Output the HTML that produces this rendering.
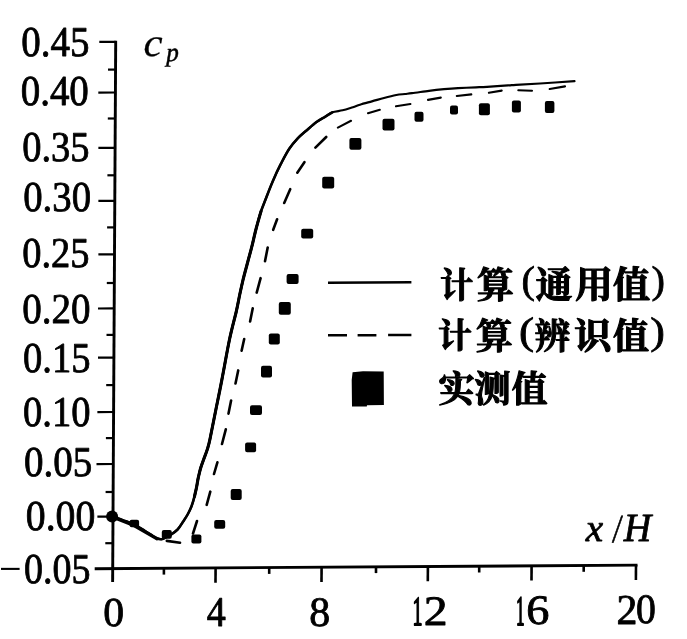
<!DOCTYPE html>
<html lang="zh"><head><meta charset="utf-8"><title>cp - x/H</title>
<style>html,body{margin:0;padding:0;background:#fff}svg{display:block;will-change:transform}text{text-rendering:geometricPrecision}</style></head>
<body><svg width="687" height="639" viewBox="0 0 687 639">
<rect width="687" height="639" fill="#fff"/>
<g stroke="#000" stroke-width="2.9" fill="none" stroke-linecap="butt">
<line x1="115.71" y1="40.7" x2="112.63" y2="582"/>
<line x1="94.7" y1="568.72" x2="637.5" y2="565.10"/>
</g>
<g stroke="#000" stroke-width="2.2" fill="none">
<line x1="99.3" y1="41.9" x2="115.7" y2="41.8"/>
<line x1="98.3" y1="92.6" x2="115.4" y2="92.5"/>
<line x1="98.4" y1="147.9" x2="115.1" y2="147.8"/>
<line x1="98.4" y1="200.9" x2="114.8" y2="200.8"/>
<line x1="98.4" y1="254.4" x2="114.5" y2="254.3"/>
<line x1="98" y1="308.5" x2="114.2" y2="308.4"/>
<line x1="98" y1="357.7" x2="113.9" y2="357.6"/>
<line x1="97.4" y1="412.1" x2="113.6" y2="412.0"/>
<line x1="96.5" y1="464.1" x2="113.3" y2="464.0"/>
<line x1="97.4" y1="516.7" x2="113.0" y2="516.6"/>
<line x1="108.0" y1="69.6" x2="115.5" y2="69.6"/>
<line x1="107.8" y1="118.5" x2="115.3" y2="118.5"/>
<line x1="107.4" y1="175.3" x2="114.9" y2="175.3"/>
<line x1="107.1" y1="227.4" x2="114.6" y2="227.4"/>
<line x1="106.8" y1="283.0" x2="114.3" y2="283.0"/>
<line x1="106.5" y1="334.9" x2="114.0" y2="334.9"/>
<line x1="106.2" y1="385.1" x2="113.7" y2="385.1"/>
<line x1="105.9" y1="438.1" x2="113.4" y2="438.1"/>
<line x1="105.6" y1="492.0" x2="113.1" y2="492.0"/>
<line x1="105.3" y1="543.2" x2="112.8" y2="543.2"/>
</g>
<g stroke="#000" stroke-width="2.6" fill="none">
<line x1="215.6" y1="567.9" x2="215.5" y2="582.7"/>
<line x1="321.6" y1="567.2" x2="321.5" y2="582.0"/>
<line x1="427.9" y1="566.5" x2="427.8" y2="581.3"/>
<line x1="531.6" y1="565.8" x2="531.5" y2="580.6"/>
<line x1="636.0" y1="565.1" x2="635.9" y2="579.9"/>
<line x1="163.9" y1="568.3" x2="163.9" y2="574.6"/>
<line x1="269.2" y1="567.6" x2="269.2" y2="573.9"/>
<line x1="376" y1="566.8" x2="376" y2="573.1"/>
<line x1="479.2" y1="566.2" x2="479.2" y2="572.5"/>
<line x1="583.7" y1="565.5" x2="583.7" y2="571.8"/>
</g>
<text transform="matrix(0.3898 0 0 0.4250 21.34 55.64)" font-family='"Liberation Serif", serif' font-size="100" stroke="#000" stroke-width="2.0" stroke-linejoin="round" fill="#000">0.45</text>
<text transform="matrix(0.3898 0 0 0.4250 20.64 105.29)" font-family='"Liberation Serif", serif' font-size="100" stroke="#000" stroke-width="2.0" stroke-linejoin="round" fill="#000">0.40</text>
<text transform="matrix(0.3850 0 0 0.4250 22.16 160.79)" font-family='"Liberation Serif", serif' font-size="100" stroke="#000" stroke-width="2.0" stroke-linejoin="round" fill="#000">0.35</text>
<text transform="matrix(0.3874 0 0 0.4250 23.25 210.59)" font-family='"Liberation Serif", serif' font-size="100" stroke="#000" stroke-width="2.0" stroke-linejoin="round" fill="#000">0.30</text>
<text transform="matrix(0.3850 0 0 0.4250 22.16 266.69)" font-family='"Liberation Serif", serif' font-size="100" stroke="#000" stroke-width="2.0" stroke-linejoin="round" fill="#000">0.25</text>
<text transform="matrix(0.3910 0 0 0.4250 22.14 323.19)" font-family='"Liberation Serif", serif' font-size="100" stroke="#000" stroke-width="2.0" stroke-linejoin="round" fill="#000">0.20</text>
<text transform="matrix(0.3856 0 0 0.4250 23.06 372.30)" font-family='"Liberation Serif", serif' font-size="100" stroke="#000" stroke-width="2.0" stroke-linejoin="round" fill="#000">0.15</text>
<text transform="matrix(0.3856 0 0 0.4250 23.06 425.70)" font-family='"Liberation Serif", serif' font-size="100" stroke="#000" stroke-width="2.0" stroke-linejoin="round" fill="#000">0.10</text>
<text transform="matrix(0.3910 0 0 0.4250 23.94 476.49)" font-family='"Liberation Serif", serif' font-size="100" stroke="#000" stroke-width="2.0" stroke-linejoin="round" fill="#000">0.05</text>
<text transform="matrix(0.3970 0 0 0.4250 25.81 529.99)" font-family='"Liberation Serif", serif' font-size="100" stroke="#000" stroke-width="2.0" stroke-linejoin="round" fill="#000">0.00</text>
<g><text transform="matrix(0.40 0 0 0.425 -1.0 582.8)" font-family='"Liberation Serif", serif' font-size="100" fill="#000">−</text><text transform="matrix(0.3802 0 0 0.4250 23.98 582.69)" font-family='"Liberation Serif", serif' font-size="100" stroke="#000" stroke-width="2.0" stroke-linejoin="round" fill="#000">0.05</text></g>
<g><text transform="matrix(0.4167 0 0 0.4104 103.33 626.18)" font-family='"Liberation Serif", serif' font-size="100" stroke="#000" stroke-width="2.0" stroke-linejoin="round" fill="#000">0</text></g>
<g><text transform="matrix(0.3804 0 0 0.4215 206.74 625.80)" font-family='"Liberation Serif", serif' font-size="100" stroke="#000" stroke-width="2.0" stroke-linejoin="round" fill="#000">4</text></g>
<g><text transform="matrix(0.4190 0 0 0.4179 309.32 625.56)" font-family='"Liberation Serif", serif' font-size="100" stroke="#000" stroke-width="2.0" stroke-linejoin="round" fill="#000">8</text></g>
<g><text transform="matrix(0.2000 0 0 0.4121 412.60 625.00)" font-family='"Liberation Serif", serif' font-size="100" stroke="#000" stroke-width="4.5" stroke-linejoin="round" fill="#000">1</text><text transform="matrix(0.4775 0 0 0.4185 423.69 625.00)" font-family='"Liberation Serif", serif' font-size="100" stroke="#000" stroke-width="2.0" stroke-linejoin="round" fill="#000">2</text></g>
<g><text transform="matrix(0.1714 0 0 0.4227 516.06 625.00)" font-family='"Liberation Serif", serif' font-size="100" stroke="#000" stroke-width="4.5" stroke-linejoin="round" fill="#000">1</text><text transform="matrix(0.4628 0 0 0.4194 526.15 624.36)" font-family='"Liberation Serif", serif' font-size="100" stroke="#000" stroke-width="2.0" stroke-linejoin="round" fill="#000">6</text></g>
<g><text transform="matrix(0.4175 0 0 0.4262 616.53 623.80)" font-family='"Liberation Serif", serif' font-size="100" stroke="#000" stroke-width="2.0" stroke-linejoin="round" fill="#000">2</text><text transform="matrix(0.3976 0 0 0.4194 636.01 623.36)" font-family='"Liberation Serif", serif' font-size="100" stroke="#000" stroke-width="2.0" stroke-linejoin="round" fill="#000">0</text></g>
<g><text transform="matrix(0.4310 0 0 0.3992 143.54 56.08)" font-family='"Liberation Serif", serif' font-size="100" font-style="italic" stroke="#000" stroke-width="0.6" stroke-linejoin="round" fill="#000">c</text><text transform="matrix(0.2509 0 0 0.2629 166.16 61.02)" font-family='"Liberation Serif", serif' font-size="100" font-style="italic" stroke="#000" stroke-width="2.0" stroke-linejoin="round" fill="#000">p</text></g>
<g><text transform="matrix(0.3915 0 0 0.3896 585.78 541.41)" font-family='"Liberation Serif", serif' font-size="100" font-style="italic" stroke="#000" stroke-width="2.0" stroke-linejoin="round" fill="#000">x</text><text transform="matrix(0.2707 0 0 0.3971 613.15 541.71)" font-family='"Liberation Serif", serif' font-size="100" font-style="italic" stroke="#000" stroke-width="2.0" stroke-linejoin="round" fill="#000">/</text><text transform="matrix(0.3812 0 0 0.4000 623.66 541.20)" font-family='"Liberation Serif", serif' font-size="100" font-style="italic" stroke="#000" stroke-width="2.0" stroke-linejoin="round" fill="#000">H</text></g>
<g><text transform="matrix(0.3306 0 0 0.3588 439.90 298.03)" font-family='"Liberation Serif", "Noto Serif CJK SC", serif' font-size="100" font-weight="bold" stroke="#000" stroke-width="3.0" stroke-linejoin="round" fill="#000">计</text><text transform="matrix(0.3711 0 0 0.3663 476.74 297.75)" font-family='"Liberation Serif", "Noto Serif CJK SC", serif' font-size="100" font-weight="bold" stroke="#000" stroke-width="3.0" stroke-linejoin="round" fill="#000">算</text><text transform="matrix(0.4036 0 0 0.3891 521.49 292.94)" font-family='"Liberation Serif", serif' font-size="100" stroke="#000" stroke-width="2.0" stroke-linejoin="round" fill="#000">(</text><text transform="matrix(0.3711 0 0 0.3729 535.44 298.38)" font-family='"Liberation Serif", "Noto Serif CJK SC", serif' font-size="100" font-weight="bold" stroke="#000" stroke-width="3.0" stroke-linejoin="round" fill="#000">通</text><text transform="matrix(0.3804 0 0 0.3737 574.93 298.45)" font-family='"Liberation Serif", "Noto Serif CJK SC", serif' font-size="100" font-weight="bold" stroke="#000" stroke-width="3.0" stroke-linejoin="round" fill="#000">用</text><text transform="matrix(0.3727 0 0 0.3742 612.84 298.37)" font-family='"Liberation Serif", "Noto Serif CJK SC", serif' font-size="100" font-weight="bold" stroke="#000" stroke-width="3.0" stroke-linejoin="round" fill="#000">值</text><text transform="matrix(0.4036 0 0 0.3891 651.39 292.94)" font-family='"Liberation Serif", serif' font-size="100" stroke="#000" stroke-width="2.0" stroke-linejoin="round" fill="#000">)</text></g>
<g><text transform="matrix(0.3378 0 0 0.3485 437.99 347.84)" font-family='"Liberation Serif", "Noto Serif CJK SC", serif' font-size="100" font-weight="bold" stroke="#000" stroke-width="3.0" stroke-linejoin="round" fill="#000">计</text><text transform="matrix(0.3701 0 0 0.3622 475.84 348.90)" font-family='"Liberation Serif", "Noto Serif CJK SC", serif' font-size="100" font-weight="bold" stroke="#000" stroke-width="3.0" stroke-linejoin="round" fill="#000">算</text><text transform="matrix(0.4536 0 0 0.3859 519.04 344.01)" font-family='"Liberation Serif", serif' font-size="100" stroke="#000" stroke-width="2.0" stroke-linejoin="round" fill="#000">(</text><text transform="matrix(0.3571 0 0 0.3629 534.46 348.89)" font-family='"Liberation Serif", "Noto Serif CJK SC", serif' font-size="100" font-weight="bold" stroke="#000" stroke-width="3.0" stroke-linejoin="round" fill="#000">辨</text><text transform="matrix(0.3740 0 0 0.3667 574.04 348.85)" font-family='"Liberation Serif", "Noto Serif CJK SC", serif' font-size="100" font-weight="bold" stroke="#000" stroke-width="3.0" stroke-linejoin="round" fill="#000">识</text><text transform="matrix(0.3626 0 0 0.3629 612.86 348.89)" font-family='"Liberation Serif", "Noto Serif CJK SC", serif' font-size="100" font-weight="bold" stroke="#000" stroke-width="3.0" stroke-linejoin="round" fill="#000">值</text><text transform="matrix(0.4393 0 0 0.3859 650.32 344.01)" font-family='"Liberation Serif", serif' font-size="100" stroke="#000" stroke-width="2.0" stroke-linejoin="round" fill="#000">)</text></g>
<g><text transform="matrix(0.3615 0 0 0.3680 438.46 402.14)" font-family='"Liberation Serif", "Noto Serif CJK SC", serif' font-size="100" font-weight="bold" stroke="#000" stroke-width="3.0" stroke-linejoin="round" fill="#000">实</text><text transform="matrix(0.3629 0 0 0.3719 474.26 402.10)" font-family='"Liberation Serif", "Noto Serif CJK SC", serif' font-size="100" font-weight="bold" stroke="#000" stroke-width="3.0" stroke-linejoin="round" fill="#000">测</text><text transform="matrix(0.3596 0 0 0.3680 511.46 402.14)" font-family='"Liberation Serif", "Noto Serif CJK SC", serif' font-size="100" font-weight="bold" stroke="#000" stroke-width="3.0" stroke-linejoin="round" fill="#000">值</text></g>
<g stroke="#000" stroke-width="2.6" fill="none">
<line x1="328" y1="282.7" x2="411.4" y2="282.3"/>
<path d="M328 335.3H347M357.6 335.3H376.4M388.1 335H411.4"/>
</g>
<path fill="#000" d="M352.6 372.2L363 371.3L383.7 371.6L383.9 405L367 405.2L366.8 406.6L352 406.5L351.7 380Z"/>
<path d="M112.6 516.6C114.3 517.2 119.4 518.9 123.0 520.2C126.6 521.5 130.3 522.6 134.0 524.4C137.7 526.2 141.3 528.7 145.0 531.0C148.7 533.3 153.5 536.6 156.3 538.0C159.1 539.4 159.8 539.4 161.6 539.2C163.3 539.0 165.4 537.5 166.8 536.8C168.2 536.1 168.3 536.4 170.1 535.2C171.9 534.0 175.4 531.8 177.6 529.5C179.8 527.2 181.5 524.1 183.2 521.5C184.9 518.9 186.5 516.6 187.9 514.0C189.3 511.4 190.6 508.7 191.7 505.8C192.8 502.9 193.7 499.5 194.5 496.4C195.3 493.3 196.0 490.1 196.6 487.0C197.2 483.9 197.6 480.7 198.3 477.6C199.0 474.5 199.7 471.3 200.6 468.2C201.5 465.1 202.8 461.9 203.9 458.8C205.0 455.7 206.3 452.7 207.3 449.4C208.3 446.1 208.6 445.7 210.0 439.0C211.4 432.3 214.0 418.9 216.0 409.0C218.0 399.1 219.7 391.2 221.9 379.6C224.2 368.0 227.1 350.9 229.5 339.5C231.9 328.1 234.6 318.8 236.3 311.4C238.0 304.0 238.5 300.5 239.6 295.3C240.7 290.1 241.7 285.5 243.0 280.0C244.3 274.5 246.1 268.3 247.6 262.5C249.1 256.7 250.8 250.9 252.2 245.2C253.6 239.4 254.8 233.6 256.3 228.0C257.8 222.4 259.3 216.5 261.0 211.4C262.7 206.3 264.4 202.5 266.3 197.5C268.2 192.5 270.3 187.0 272.7 181.4C275.1 175.8 277.9 169.6 280.7 164.2C283.5 158.8 286.4 153.0 289.3 148.7C292.2 144.4 295.2 141.1 297.9 138.2C300.6 135.3 302.5 133.9 305.6 131.2C308.8 128.5 313.5 124.2 316.8 121.8C320.1 119.4 322.8 118.2 325.4 116.6C328.0 115.0 329.4 113.3 332.3 112.3C335.2 111.2 339.2 111.1 342.6 110.3C346.0 109.5 350.0 108.1 352.9 107.2C355.8 106.3 356.8 105.7 360.0 104.7C363.2 103.7 367.9 102.5 371.9 101.4C375.9 100.3 379.9 99.1 384.0 98.0C388.1 96.9 392.8 95.7 396.3 95.0C399.8 94.3 402.4 94.3 405.0 94.0C407.6 93.7 408.0 93.7 412.0 93.2C416.0 92.7 423.7 91.5 429.0 90.8C434.3 90.1 439.2 89.6 444.0 89.2C448.8 88.8 452.7 88.5 458.0 88.2C463.3 87.9 471.2 87.5 476.0 87.3C480.8 87.1 481.7 87.1 487.0 86.8C492.3 86.5 503.2 85.7 508.0 85.4C512.8 85.1 510.7 85.1 516.0 84.8C521.3 84.5 530.2 84.1 540.0 83.5C549.8 82.9 568.8 81.6 574.5 81.2" stroke="#000" stroke-width="2.2" fill="none" stroke-linejoin="round" stroke-linecap="round"/>
<path d="M112.6 516.6C114.3 517.2 119.4 518.9 123.0 520.2C126.6 521.5 130.3 522.6 134.0 524.4C137.7 526.2 141.3 528.7 145.0 531.0C148.7 533.3 153.5 536.6 156.3 538.0C159.1 539.4 159.8 539.4 161.6 539.2C163.3 539.0 165.4 537.5 166.8 536.8C168.2 536.1 168.3 536.4 170.1 535.2C171.9 534.0 175.4 531.8 177.6 529.5C179.8 527.2 181.5 524.1 183.2 521.5C184.9 518.9 186.5 516.6 187.9 514.0C189.3 511.4 190.6 508.7 191.7 505.8C192.8 502.9 193.7 499.5 194.5 496.4C195.3 493.3 196.0 490.1 196.6 487.0C197.2 483.9 197.6 480.7 198.3 477.6C199.0 474.5 199.7 471.3 200.6 468.2C201.5 465.1 202.8 461.9 203.9 458.8C205.0 455.7 206.3 452.7 207.3 449.4C208.3 446.1 208.6 445.7 210.0 439.0C211.4 432.3 214.0 418.9 216.0 409.0C218.0 399.1 219.7 391.2 221.9 379.6C224.2 368.0 227.1 350.9 229.5 339.5C231.9 328.1 234.6 318.8 236.3 311.4C238.0 304.0 238.5 300.5 239.6 295.3C240.7 290.1 241.7 285.5 243.0 280.0C244.3 274.5 246.1 268.3 247.6 262.5C249.1 256.7 250.8 250.9 252.2 245.2C253.6 239.4 254.8 233.6 256.3 228.0C257.8 222.4 259.3 216.5 261.0 211.4C262.7 206.3 264.4 202.5 266.3 197.5C268.2 192.5 270.3 187.0 272.7 181.4C275.1 175.8 277.9 169.6 280.7 164.2C283.5 158.8 286.4 153.0 289.3 148.7C292.2 144.4 295.2 141.1 297.9 138.2C300.6 135.3 302.5 133.9 305.6 131.2C308.8 128.5 313.5 124.2 316.8 121.8C320.1 119.4 322.8 118.2 325.4 116.6C328.0 115.0 331.1 113.0 332.3 112.3" stroke="#000" stroke-width="2.6" fill="none" stroke-linejoin="round" stroke-linecap="round"/>
<path d="M194.5 496.4C194.8 494.8 196.0 490.1 196.6 487.0C197.2 483.9 197.6 480.7 198.3 477.6C199.0 474.5 199.7 471.3 200.6 468.2C201.5 465.1 202.8 461.9 203.9 458.8C205.0 455.7 206.3 452.7 207.3 449.4C208.3 446.1 208.6 445.7 210.0 439.0C211.4 432.3 214.0 418.9 216.0 409.0C218.0 399.1 219.7 391.2 221.9 379.6C224.2 368.0 227.1 350.9 229.5 339.5C231.9 328.1 234.6 318.8 236.3 311.4C238.0 304.0 238.5 300.5 239.6 295.3C240.7 290.1 241.7 285.5 243.0 280.0C244.3 274.5 246.1 268.3 247.6 262.5C249.1 256.7 250.8 250.9 252.2 245.2C253.6 239.4 254.8 233.6 256.3 228.0C257.8 222.4 260.2 214.2 261.0 211.4" stroke="#000" stroke-width="3.1" fill="none" stroke-linejoin="round" stroke-linecap="round"/>
<path d="M113 517.4L134 525.6L157 539" stroke="#000" stroke-width="3" fill="none" stroke-linecap="round" stroke-linejoin="round"/>
<path d="M166.8 540.9L180 542.7M197 521L193 533.5M210.3 491.7L206.7 504.8M217.4 462.3L214 474M225.8 429.3L222 444M231.1 400.5L228.5 413.6M238.2 370.4L235.5 383.5M244.2 339L241.6 350.7M252.7 308.4L250.1 321.5M260.6 278.2L256.7 292.6M267.7 247.6L265 261.2M277.1 219.3L273.2 229.8M290.2 189.2L284.2 203M304.4 162.2L297.3 172.7M326.2 137L315.4 147.6" stroke="#000" stroke-width="2.6" fill="none" stroke-linecap="round"/>
<path d="M351 120.8L337.9 127.6M379.8 109.8L368 113.2M410.4 104L396 106.3M440.8 97.6L428 99.9M471.3 94.4L456.8 96M501.7 90.6L488.9 92.8M532 90.7L518.3 90.3M565 86.4L549.7 89" stroke="#000" stroke-width="2.1" fill="none" stroke-linecap="round"/>
<g fill="#000">
<circle cx="112.1" cy="516.6" r="6.0"/>
<rect x="129.6" y="519.8" width="9.5" height="7.5" rx="2"/>
<rect x="161.8" y="529.9" width="10.0" height="8.8" rx="2"/>
<rect x="191.4" y="534.6" width="10.0" height="8.8" rx="2"/>
<rect x="214.2" y="520.0" width="11.0" height="8.8" rx="2"/>
<rect x="230.7" y="489.1" width="11.0" height="10.8" rx="2"/>
<rect x="245.1" y="442.4" width="11.0" height="9.8" rx="2"/>
<rect x="250.0" y="405.3" width="12.0" height="9.8" rx="2"/>
<rect x="261.0" y="365.8" width="11.0" height="11.8" rx="2"/>
<rect x="268.8" y="333.6" width="11.0" height="10.8" rx="2"/>
<rect x="278.8" y="301.9" width="12.0" height="12.8" rx="2"/>
<rect x="286.6" y="274.1" width="12.0" height="9.8" rx="2"/>
<rect x="301.2" y="228.8" width="12.0" height="9.8" rx="2"/>
<rect x="322.2" y="176.7" width="12.0" height="11.8" rx="2"/>
<rect x="349.4" y="137.9" width="12.0" height="11.8" rx="2"/>
<rect x="382.5" y="118.8" width="12.0" height="11.8" rx="2"/>
<rect x="414.5" y="111.8" width="9.0" height="10.0" rx="2"/>
<rect x="450.0" y="105.6" width="8.0" height="9.0" rx="2"/>
<rect x="478.9" y="103.2" width="11.0" height="12.0" rx="2"/>
<rect x="511.9" y="100.6" width="9.0" height="12.0" rx="2"/>
<rect x="544.9" y="101.0" width="9.5" height="12.0" rx="2"/>
</g>
</svg></body></html>
